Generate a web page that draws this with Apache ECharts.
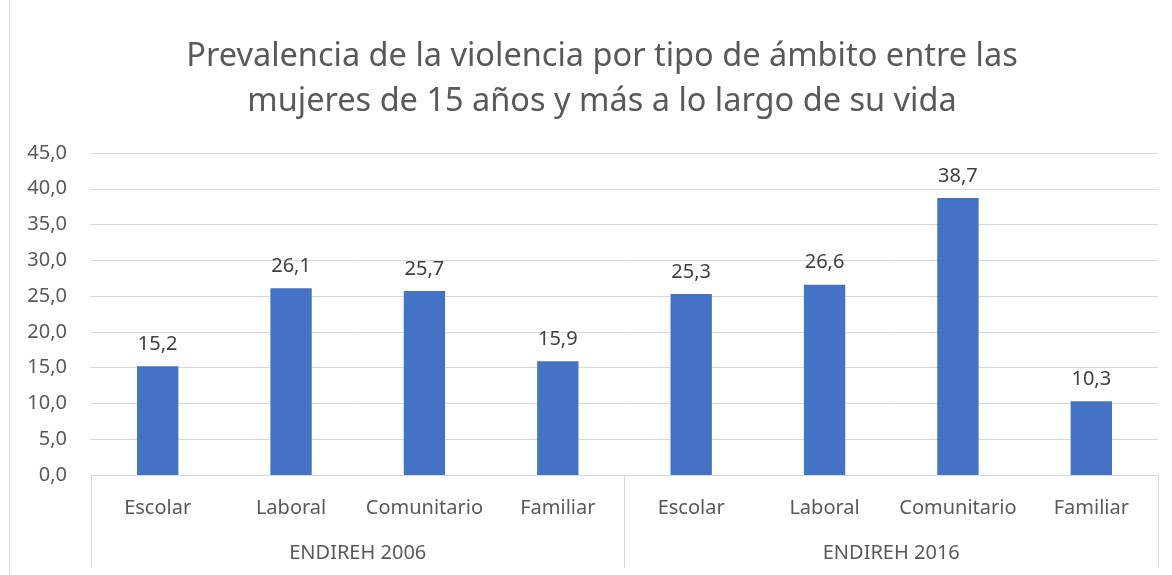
<!DOCTYPE html>
<html>
<head>
<meta charset="utf-8">
<script src="https://cdn.jsdelivr.net/npm/echarts@6/dist/echarts.min.js"></script>
<style>
  html, body { margin: 0; padding: 0; background: #fff; }
  #chart { width: 1172px; height: 575px; }
</style>
</head>
<body>
<div id="chart"></div>
<script>
// datos de la gráfica
const categorias = ["Escolar", "Laboral", "Comunitario", "Familiar", "Escolar", "Laboral", "Comunitario", "Familiar"];
const grupos = ["ENDIREH 2006", "ENDIREH 2016"];
const valores = [15.2, 26.1, 25.7, 15.9, 25.3, 26.6, 38.7, 10.3];
const titulo = "Prevalencia de la violencia por tipo de ámbito entre las\nmujeres de 15 años y más a lo largo de su vida";

const fuente = "'Noto Sans', 'Open Sans', sans-serif";
const coma = (v) => v.toFixed(1).replace(".", ",");

let chart = echarts.init(document.getElementById("chart"));
chart.setOption({
  animation: false,
  title: {
    text: titulo,
    left: 597,
    top: 29,
    textAlign: "center",
    textStyle: {
      color: "#595959",
      fontFamily: fuente,
      fontWeight: "normal",
      fontSize: 32.5,
      lineHeight: 45,
    },
  },
  grid: {
    left: 91,
    right: 14,
    top: 153,
    bottom: 100,
  },
  xAxis: [
    {
      type: "category",
      data: categorias,
      axisLine: { show: true, lineStyle: { color: "#d9d9d9", width: 1 } },
      axisTick: { show: false },
      axisLabel: {
        interval: 0,
        margin: 23,
        color: "#595959",
        fontFamily: fuente,
        fontSize: 20,
      },
    },
    {
      type: "category",
      data: grupos,
      position: "bottom",
      axisLine: { show: false },
      axisTick: {
        show: true,
        length: 93,
        lineStyle: { color: "#d9d9d9", width: 1 },
      },
      axisLabel: {
        interval: 0,
        margin: 68,
        color: "#595959",
        fontFamily: fuente,
        fontSize: 20,
      },
    },
  ],
  yAxis: {
    type: "value",
    min: 0,
    max: 45,
    interval: 5,
    axisLine: { show: false },
    axisTick: { show: false },
    splitLine: { lineStyle: { color: "#d9d9d9", width: 1 } },
    axisLabel: {
      margin: 24,
      color: "#595959",
      fontFamily: fuente,
      fontSize: 20,
      formatter: coma,
    },
  },
  series: [
    {
      type: "bar",
      data: valores,
      barWidth: "31%",
      itemStyle: { color: "#4472C4" },
      label: {
        show: true,
        position: "top",
        distance: 12,
        color: "#404040",
        fontFamily: fuente,
        fontSize: 20,
        formatter: (p) => coma(p.value),
      },
    },
  ],
  graphic: [
    {
      type: "rect",
      shape: { x: 9.5, y: -5, width: 1200, height: 585 },
      style: { fill: "none", stroke: "#d9d9d9", lineWidth: 1 },
      silent: true,
    },
  ],
});
</script>
</body>
</html>
